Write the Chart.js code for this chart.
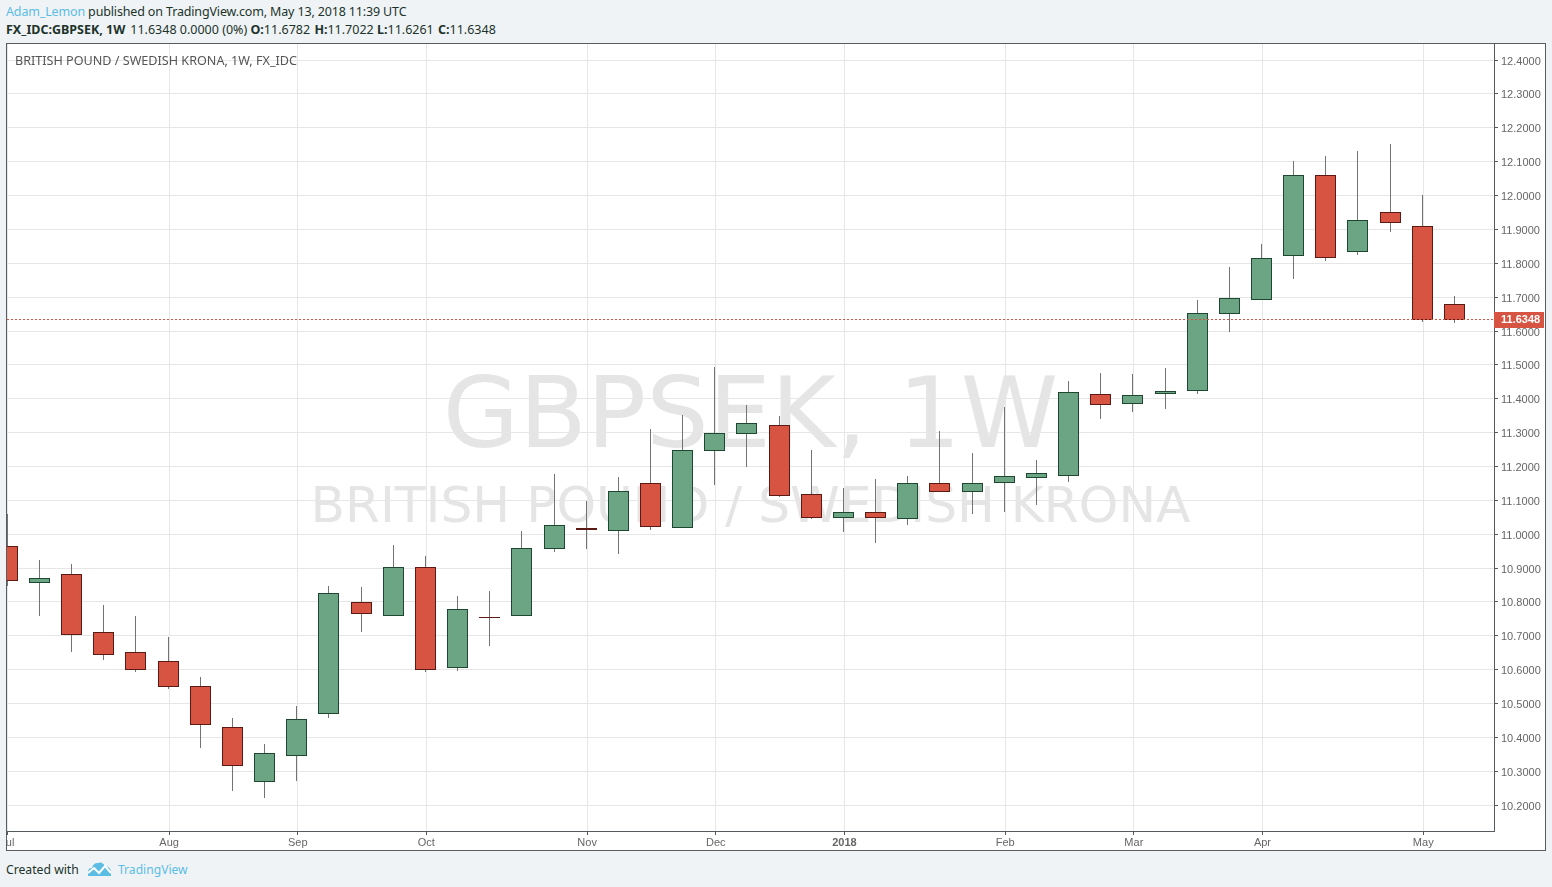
<!DOCTYPE html>
<html>
<head>
<meta charset="utf-8">
<title>GBPSEK, 1W</title>
<script src="https://cdn.jsdelivr.net/npm/chart.js@4"></script>
<style>
  html, body { margin: 0; padding: 0; background: #f0f3f6; width: 1552px; height: 887px; overflow: hidden; }
  body { position: relative; font-family: "Noto Sans", sans-serif; font-size: 12.5px; color: #20332a; }
  .line { position: absolute; left: 6px; white-space: nowrap; line-height: 18px; }
  .blue { color: #5bbde4; }
  #frame { position: absolute; left: 6px; top: 43px; width: 1540px; height: 808px; box-sizing: border-box; border: 1px solid #5a5d60; background: #fff; }
  #chartBox { position: absolute; left: 0; top: 0; width: 1538px; height: 806px; }
  .mark { position: absolute; left: 0; width: 1487px; text-align: center; white-space: nowrap; font-family: "DejaVu Sans", sans-serif; color: #e5e5e5; }
  #title { position: absolute; left: 8px; top: 8px; color: #555; white-space: nowrap; line-height: 18px; font-size: 12.6px; }
  #logo { position: absolute; left: 87px; top: 860px; }
</style>
</head>
<body>
<div class="line" style="top:3px;letter-spacing:-0.15px"><span class="blue">Adam_Lemon</span> published on TradingView.com, May 13, 2018 11:39 UTC</div>
<div class="line" style="top:21px"><b>FX_IDC:GBPSEK, 1W</b><span style="margin-left:5px">11.6348 0.0000 (0%)</span> <b>O:</b>11.6782 <b style="margin-left:1px">H:</b>11.7022 <b>L:</b>11.6261 <b style="margin-left:1px">C:</b>11.6348</div>

<div id="frame">
  <div class="mark" style="top:314px;font-size:98.5px;line-height:110px">GBPSEK, 1W</div>
  <div class="mark" style="top:431px;font-size:50.3px;line-height:60px">BRITISH POUND / SWEDISH KRONA</div>
  <div id="chartBox"><canvas id="fxChart"></canvas></div>
  <div id="title">BRITISH POUND / SWEDISH KRONA, 1W, FX_IDC</div>
</div>

<div class="line" style="top:861px;font-size:12.2px">Created with</div>
<svg id="logo" width="25" height="18" viewBox="0 0 25 18">
  <path d="M1 16 L1 12 Q1 8 5 8 Q6 3 11 3 Q15 1 18 6 Q24 7 24 12 L24 16 Z" fill="#5bbde4"/>
  <path d="M1 13 L7 8 L12 13 L18 6 L24 13" fill="none" stroke="#fff" stroke-width="2"/>
</svg>
<div class="line blue" style="left:118px;top:861px;font-size:12.1px">TradingView</div>

<script>
// weekly candles
const openValues = [10.9644, 10.8581, 10.8818, 10.7105, 10.6515, 10.6249, 10.5511, 10.4300, 10.2706, 10.3474,
  10.4714, 10.7991, 10.7607, 10.9024, 10.6072, 10.7550, 10.7607, 10.9585, 11.0157, 11.0117,
  11.1505, 11.0205, 11.2479, 11.2981, 11.3217, 11.1180, 11.0501, 11.0648, 11.0471, 11.1505,
  11.1268, 11.1534, 11.1682, 11.1741, 11.4132, 11.3867, 11.4162, 11.4251, 11.6524, 11.6937,
  11.8236, 12.0598, 11.8354, 11.9506, 11.9092, 11.6782];
const closeValues = [10.8640, 10.8700, 10.7046, 10.6456, 10.6013, 10.5511, 10.4389, 10.3178, 10.3533, 10.4537,
  10.8257, 10.7666, 10.9024, 10.6013, 10.7784, 10.7545, 10.9585, 11.0264, 11.0153, 11.1268,
  11.0235, 11.2479, 11.2981, 11.3276, 11.1150, 11.0501, 11.0648, 11.0501, 11.1505, 11.1268,
  11.1505, 11.1711, 11.1800, 11.4191, 11.3837, 11.4103, 11.4221, 11.6524, 11.6967, 11.8148,
  12.0598, 11.8177, 11.9270, 11.9211, 11.6347, 11.6348];
const highValues = [11.0569, 10.9210, 10.9092, 10.7882, 10.7557, 10.6937, 10.5756, 10.4545, 10.3778, 10.4900,
  10.8443, 10.8413, 10.9653, 10.9329, 10.8148, 10.8295, 11.0067, 11.1750, 11.0952, 11.1661,
  11.3078, 11.3492, 11.4909, 11.3787, 11.3462, 11.2458, 11.1336, 11.1602, 11.1691, 11.3019,
  11.2370, 11.3728, 11.2163, 11.4495, 11.4732, 11.4702, 11.4879, 11.6887, 11.7861, 11.8540,
  12.0991, 12.1139, 12.1286, 12.1522, 11.9987, 11.7022];
const lowValues = [10.8481, 10.7587, 10.6533, 10.6296, 10.5942, 10.5440, 10.3698, 10.2429, 10.2222, 10.2724,
  10.4584, 10.7123, 10.7607, 10.5954, 10.5972, 10.6710, 10.7607, 10.9485, 10.9574, 10.9426,
  11.0135, 11.0205, 11.1463, 11.1995, 11.1109, 11.0459, 11.0075, 10.9751, 11.0282, 11.1268,
  11.0607, 11.0666, 11.0864, 11.1552, 11.3412, 11.3619, 11.3707, 11.4150, 11.5980, 11.6937,
  11.7545, 11.8077, 11.8254, 11.8933, 11.6276, 11.6261];

// month ticks sit on the week index they start at
const monthWeeks = [0, 5, 9, 13, 18, 22, 26, 31, 35, 39, 44];
const monthLabels = ['Jul', 'Aug', 'Sep', 'Oct', 'Nov', 'Dec', '2018', 'Feb', 'Mar', 'Apr', 'May'];
const priceTicks = [10.2, 10.3, 10.4, 10.5, 10.6, 10.7, 10.8, 10.9, 11.0, 11.1, 11.2, 11.3,
  11.4, 11.5, 11.6, 11.7, 11.8, 11.9, 12.0, 12.1, 12.2, 12.3, 12.4];
const lastClose = 11.6348;

const UP = '#6ba583', UP_EDGE = '#1d4731', DOWN = '#d75442', DOWN_EDGE = '#5b1a13';
const AXIS = '#555a5e', GRID = '#e6e6e6', TICK_TEXT = '#666';
const X_MIN = -0.01, X_MAX = 46.23;

const weeks = openValues.map((v, i) => i);

// keep every candle on whole pixels, like the original
const snapPlugin = {
  id: 'snap',
  afterDatasetsUpdate(chart) {
    chart.data.datasets.forEach((ds, d) => {
      chart.getDatasetMeta(d).data.forEach(el => {
        if (ds.type === 'line') {
          el.y = Math.floor(el.y) + 0.5;
          return;
        }
        const top = Math.floor(Math.min(el.y, el.base));
        const bottom = Math.floor(Math.max(el.y, el.base)) + 1;
        el.x = Math.floor(el.x) + 0.5;
        el.y = top;
        el.base = bottom;
      });
    });
  }
};

// red tag with the last price on the axis
const lastPricePlugin = {
  id: 'lastPrice',
  afterDraw(chart) {
    const c = chart.ctx, y = Math.floor(chart.scales.y.getPixelForValue(lastClose));
    const left = chart.chartArea.right;
    c.save();
    c.fillStyle = DOWN;
    c.fillRect(left, y - 7, 50, 16);
    c.fillStyle = '#fff';
    c.font = 'bold 11px "Liberation Sans"';
    c.textBaseline = 'middle';
    c.fillText(lastClose.toFixed(4), left + 7, y + 1);
    c.restore();
  }
};

const noPadding = size => scale => {
  scale.paddingLeft = scale.paddingRight = scale.paddingTop = scale.paddingBottom = 0;
  if (scale.isHorizontal()) scale.height = size; else scale.width = size;
};

new Chart(document.getElementById('fxChart'), {
  type: 'bar',
  data: {
    datasets: [
      {
        type: 'line', order: 0,
        data: [{ x: X_MIN, y: lastClose }, { x: X_MAX, y: lastClose }],
        borderColor: DOWN, borderWidth: 1, borderDash: [2, 2], pointRadius: 0
      },
      {
        label: 'Body', order: 1, grouped: false, barThickness: 21, inflateAmount: 0,
        data: weeks.map(i => ({ x: i, y: [openValues[i], closeValues[i]] })),
        backgroundColor: weeks.map(i => closeValues[i] > openValues[i] ? UP : DOWN),
        borderColor: weeks.map(i => closeValues[i] > openValues[i] ? UP_EDGE : DOWN_EDGE),
        borderWidth: 1, borderSkipped: false
      },
      {
        label: 'Wick', order: 2, grouped: false, barThickness: 1, inflateAmount: 0,
        data: weeks.map(i => ({ x: i, y: [lowValues[i], highValues[i]] })),
        backgroundColor: '#737373', borderWidth: 0
      }
    ]
  },
  options: {
    responsive: true,
    maintainAspectRatio: false,
    animation: false,
    layout: { padding: 0 },
    plugins: { legend: { display: false }, tooltip: { enabled: false }, title: { display: false } },
    scales: {
      x: {
        type: 'linear', min: X_MIN, max: X_MAX, offset: false,
        afterBuildTicks: s => { s.ticks = monthWeeks.map(w => ({ value: w === 0 ? w : w + 0.03 })); },
        afterFit: noPadding(19),
        grid: { color: GRID, tickColor: AXIS, tickLength: 4, offset: false },
        border: { color: AXIS },
        ticks: {
          autoSkip: false, maxRotation: 0, padding: 1, color: TICK_TEXT,
          font: ctx => ({ family: '"Liberation Sans"', size: 11, weight: monthLabels[ctx.index] === '2018' ? 'bold' : 'normal' }),
          callback: (v, i) => monthLabels[i]
        }
      },
      y: {
        position: 'right', min: 10.1236, max: 12.4475,
        afterBuildTicks: s => { s.ticks = priceTicks.map(v => ({ value: v })); },
        afterFit: noPadding(51),
        grid: { color: GRID, tickColor: AXIS, tickLength: 4 },
        border: { color: AXIS },
        ticks: {
          autoSkip: false, padding: 3, labelOffset: 1.5, color: TICK_TEXT,
          font: { family: '"Liberation Sans"', size: 11 },
          callback: v => v.toFixed(4)
        }
      }
    }
  },
  plugins: [snapPlugin, lastPricePlugin]
});
</script>
</body>
</html>
